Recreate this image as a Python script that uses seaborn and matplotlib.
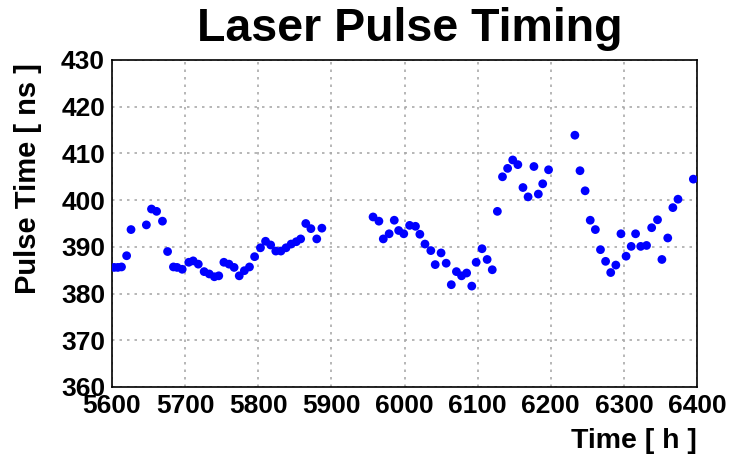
import numpy as np
import pandas as pd
import matplotlib
matplotlib.use("Agg")
import matplotlib.pyplot as plt
import seaborn as sns
from matplotlib.ticker import MultipleLocator

# ---- data ----
time_h = [5603, 5608, 5613, 5620, 5626, 5647, 5654, 5661, 5669, 5676,
          5684, 5689, 5696, 5705, 5711, 5718, 5726, 5733, 5740, 5746,
          5753, 5760, 5767, 5774, 5781, 5788, 5795, 5803, 5810, 5817,
          5824, 5831, 5838, 5845, 5852, 5858, 5865, 5872, 5880, 5887,
          5957, 5965, 5971, 5979, 5986, 5992, 5999, 6007, 6015, 6021,
          6028, 6036, 6042, 6050, 6057, 6064, 6071, 6078, 6085, 6092,
          6098, 6106, 6113, 6120, 6127, 6134, 6141, 6148, 6155, 6162,
          6169, 6177, 6183, 6189, 6197, 6233, 6240, 6247, 6254, 6261,
          6268, 6275, 6282, 6289, 6296, 6303, 6310, 6316, 6323, 6331,
          6338, 6346, 6352, 6360, 6367, 6374, 6395]
pulse_ns = [385.6, 385.6, 385.7, 388.1, 393.7, 394.7, 398.1, 397.6, 395.5, 389.0,
            385.7, 385.6, 385.2, 386.7, 387.0, 386.3, 384.7, 384.2, 383.6, 383.8,
            386.7, 386.3, 385.6, 383.8, 384.9, 385.7, 387.9, 389.8, 391.2, 390.4,
            389.1, 389.1, 389.8, 390.6, 391.1, 391.7, 395.0, 393.9, 391.7, 394.0,
            396.4, 395.5, 391.7, 392.8, 395.7, 393.5, 392.8, 394.6, 394.4, 392.7,
            390.6, 389.2, 386.2, 388.7, 386.5, 381.9, 384.7, 383.8, 384.4, 381.6,
            386.7, 389.6, 387.3, 385.1, 397.6, 405.0, 406.8, 408.6, 407.6, 402.7,
            400.7, 407.2, 401.3, 403.5, 406.5, 413.9, 406.3, 402.0, 395.7, 393.7,
            389.4, 386.9, 384.5, 386.1, 392.8, 388.0, 390.1, 392.8, 390.1, 390.3,
            394.1, 395.8, 387.3, 391.9, 398.4, 400.2, 404.5]

title = "Laser Pulse Timing"
xlabel = "Time [ h ]"
ylabel = "Pulse Time [ ns ]"
xticks = [5600, 5700, 5800, 5900, 6000, 6100, 6200, 6300, 6400]
yticks = [360, 370, 380, 390, 400, 410, 420, 430]

df = pd.DataFrame({"time": time_h, "pulse": pulse_ns})

sns.set_style("white")
plt.rcParams["font.family"] = ["Liberation Sans", "DejaVu Sans"]
plt.rcParams["font.weight"] = "bold"
plt.rcParams["text.color"] = "black"

fig = plt.figure(figsize=(7.35, 4.62), dpi=100)
ax = fig.add_axes([112 / 735, 1 - 387 / 462, (697 - 112) / 735, (387 - 60) / 462])

sns.scatterplot(data=df, x="time", y="pulse", ax=ax, color="#0000ff",
                s=40, edgecolor="none", linewidth=0, zorder=3)

ax.set_xlim(5600, 6400)
ax.set_ylim(360, 430)
ax.set_xticks(xticks)
ax.set_yticks(yticks)
ax.set_xticklabels([str(v) for v in xticks])
ax.set_yticklabels([str(v) for v in yticks])
ax.xaxis.set_minor_locator(MultipleLocator(20))
ax.yaxis.set_minor_locator(MultipleLocator(2))

ax.grid(True, which="major", color="#aaaaaa", linestyle=(0, (1.5, 3)), linewidth=1.2)
for sp in ax.spines.values():
    sp.set_visible(True)
    sp.set_color("black")
    sp.set_linewidth(1.2)

ax.tick_params(axis="both", which="major", direction="in", length=9, width=1,
               labelsize=19, pad=5, top=False, right=False, colors="black")
ax.tick_params(axis="both", which="minor", direction="in", length=5, width=0.8,
               top=False, right=False)
for lab in ax.get_xticklabels() + ax.get_yticklabels():
    lab.set_fontweight("bold")

ax.set_xlabel("")
ax.set_ylabel("")
fig.text(697 / 735, 1 - 441 / 462, xlabel, ha="right", va="center",
         fontsize=20.5, fontweight="bold", color="black")
fig.text(28 / 735, 1 - 179 / 462, ylabel, ha="center", va="center",
         rotation=90, fontsize=21, fontweight="bold", color="black")
fig.text(410 / 735, 1 - 29 / 462, title, ha="center", va="center",
         fontsize=33.5, fontweight="bold", color="black")

fig.savefig("out.png", dpi=100, facecolor="white")
